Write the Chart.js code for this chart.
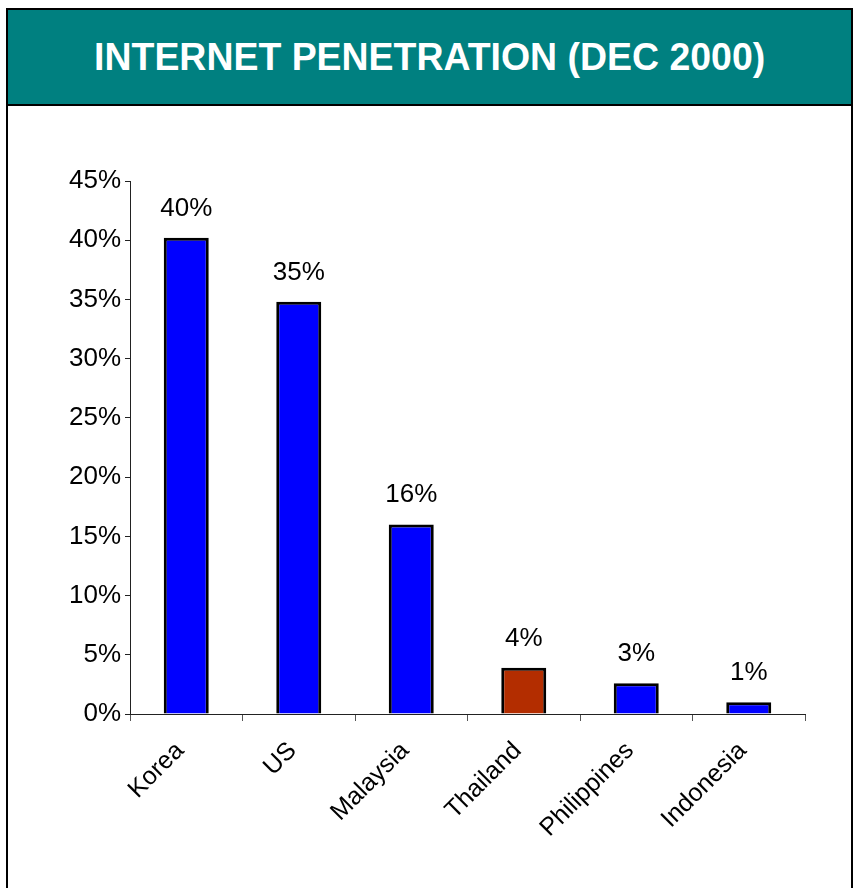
<!DOCTYPE html>
<html>
<head>
<meta charset="utf-8">
<script src="https://cdn.jsdelivr.net/npm/chart.js@4/dist/chart.umd.min.js"></script>
<style>
  html, body { margin: 0; padding: 0; background: #fff; }
  body { width: 858px; height: 888px; position: relative; overflow: hidden; font-family: "Liberation Sans", Arial, sans-serif; }
  #frame { position: absolute; left: 6px; top: 8px; width: 847px; height: 890px; border: 2px solid #000; box-sizing: border-box; }
  #header { height: 96px; background: #008080; border-bottom: 2px solid #000; box-sizing: border-box; display: flex; align-items: center; justify-content: center; }
  #header h1 { margin: 0; color: #fff; font-size: 38px; font-weight: bold; transform: scaleX(0.985); white-space: nowrap; }
  #chartBox { position: absolute; left: 0; top: 0; width: 858px; height: 888px; }
</style>
</head>
<body>
<div id="frame"><div id="header"><h1>INTERNET PENETRATION (DEC 2000)</h1></div></div>
<div id="chartBox"><canvas id="penetration"></canvas></div>
<script>
'use strict';

const countries = ['Korea', 'US', 'Malaysia', 'Thailand', 'Philippines', 'Indonesia'];
const penetration = [40.2, 34.8, 16.0, 3.9, 2.6, 1.0];
const barColors = ['#0000FF', '#0000FF', '#0000FF', '#B32D00', '#0000FF', '#0000FF'];
const yTicks = [0, 5, 10, 15, 20, 25, 30, 35, 40, 45];

const FONT_FAMILY = '"Liberation Sans", Arial, sans-serif';
const FONT = {family: FONT_FAMILY, size: 26};

// value labels above each bar
const barValueLabels = {
    id: 'barValueLabels',
    afterDatasetsDraw(chart) {
        const {ctx} = chart;
        const meta = chart.getDatasetMeta(0);
        ctx.save();
        ctx.font = `${FONT.size}px ${FONT_FAMILY}`;
        ctx.fillStyle = '#000';
        ctx.textAlign = 'center';
        ctx.textBaseline = 'alphabetic';
        meta.data.forEach(function (bar, i) {
            ctx.fillText(Math.round(penetration[i]) + '%', bar.x, bar.y - 22);
        });
        ctx.restore();
    }
};

// slanted category names, top-right corner hung just under each bar
const slantedCategories = {
    id: 'slantedCategories',
    afterDraw(chart) {
        const {ctx} = chart;
        const x = chart.scales.x;
        ctx.save();
        ctx.font = `25px ${FONT_FAMILY}`;
        ctx.fillStyle = '#000';
        ctx.textAlign = 'right';
        ctx.textBaseline = 'top';
        countries.forEach(function (name, i) {
            ctx.save();
            ctx.translate(x.getPixelForValue(i) - 15, x.top + 24);
            ctx.rotate(-Math.PI / 4);
            ctx.fillText(name, 0, 0);
            ctx.restore();
        });
        ctx.restore();
    }
};

new Chart(document.getElementById('penetration').getContext('2d'), {
    type: 'bar',
    data: {
        labels: countries,
        datasets: [
            {
                data: penetration,
                backgroundColor: barColors,
                borderColor: '#000',
                borderWidth: 3,
                barPercentage: 0.4,
                categoryPercentage: 1
            }
        ]
    },
    options: {
        responsive: true,
        maintainAspectRatio: false,
        animation: false,
        layout: {padding: {top: 181, right: 53, left: 0, bottom: 0}},
        plugins: {legend: {display: false}, tooltip: {enabled: false}},
        scales: {
            x: {
                grid: {display: true, drawOnChartArea: false, drawTicks: true, tickLength: 7, color: '#555', offset: true},
                border: {display: true, color: '#222', width: 1},
                ticks: {display: false},
                afterFit(scale) { scale.height = 174; }
            },
            y: {
                min: 0,
                max: 45,
                afterBuildTicks(scale) { scale.ticks = yTicks.map(v => ({value: v})); },
                grid: {display: true, drawOnChartArea: false, drawTicks: true, tickLength: 5, color: '#222'},
                border: {display: true, color: '#222', width: 1},
                ticks: {color: '#000', font: FONT, padding: 4, callback: v => v + '%'},
                afterFit(scale) { scale.width = 130; }
            }
        }
    },
    plugins: [barValueLabels, slantedCategories]
});
</script>
</body>
</html>
